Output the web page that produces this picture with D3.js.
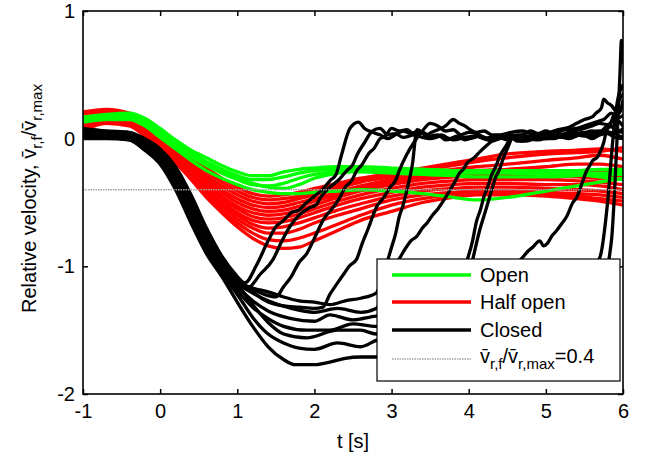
<!DOCTYPE html>
<html>
<head>
<meta charset="utf-8">
<script src="https://cdn.jsdelivr.net/npm/d3@7"></script>
<style>
  body { margin: 0; background: #fff; }
  svg { display: block; }
  text { font-family: "Liberation Sans", Arial, Helvetica, sans-serif; fill: #000; }
</style>
</head>
<body>
<svg id="chart" width="649" height="461"></svg>
<script>
// Axis ticks
const xTicks = [-1, 0, 1, 2, 3, 4, 5, 6];
const yTicks = [-2, -1, 0, 1];
const threshold = -0.4;

// Time grid shared by the open and half-open runs [s]
const tGrid = [-1, -0.7, -0.4, -0.2, 0, 0.2, 0.4, 0.6, 0.8, 1.0, 1.2, 1.4, 1.6, 1.8, 2.0, 2.3, 2.6, 3.0, 3.4, 3.8, 4.1, 4.5, 5.0, 5.4, 5.7, 6.0];

// Open door runs
const openRuns = [
  [.17, .19, .20, .16, .08, -.01, -.09, -.15, -.21, -.26, -.29, -.29, -.26, -.24, -.23, -.22, -.22, -.23, -.24, -.25, -.25, -.25, -.25, -.25, -.24, -.24],
  [.15, .17, .18, .14, .06, -.03, -.11, -.18, -.24, -.29, -.32, -.32, -.30, -.27, -.25, -.24, -.24, -.25, -.26, -.27, -.27, -.27, -.28, -.27, -.27, -.26],
  [.14, .16, .16, .12, .03, -.06, -.14, -.21, -.27, -.32, -.36, -.37, -.35, -.31, -.28, -.26, -.26, -.27, -.28, -.29, -.30, -.30, -.30, -.29, -.28, -.28],
  [.13, .15, .15, .10, .01, -.08, -.17, -.25, -.31, -.36, -.40, -.42, -.43, -.43, -.42, -.41, -.40, -.41, -.43, -.46, -.48, -.46, -.41, -.37, -.34, -.31],
  [.16, .18, .17, .13, .04, -.05, -.13, -.20, -.26, -.31, -.35, -.38, -.39, -.36, -.31, -.27, -.25, -.24, -.24, -.25, -.26, -.26, -.27, -.28, -.30, -.32]
];

// Half-open door runs
const halfOpenRuns = [
  [.21, .23, .20, .14, .05, -.05, -.14, -.23, -.31, -.38, -.43, -.45, -.44, -.42, -.39, -.35, -.31, -.27, -.23, -.19, -.16, -.12, -.10, -.09, -.08, -.10],
  [.19, .22, .19, .12, .03, -.07, -.17, -.26, -.34, -.41, -.46, -.48, -.47, -.45, -.42, -.37, -.33, -.29, -.25, -.21, -.18, -.15, -.12, -.11, -.10, -.07],
  [.17, .21, .18, .11, .01, -.09, -.19, -.29, -.37, -.44, -.49, -.51, -.50, -.47, -.44, -.39, -.34, -.30, -.27, -.24, -.22, -.20, -.17, -.15, -.13, -.16],
  [.20, .20, .16, .09, -.01, -.11, -.21, -.31, -.40, -.47, -.52, -.54, -.53, -.50, -.47, -.42, -.37, -.32, -.28, -.26, -.25, -.24, -.22, -.20, -.20, -.22],
  [.15, .19, .17, .10, .00, -.10, -.22, -.33, -.42, -.50, -.55, -.57, -.56, -.53, -.49, -.44, -.39, -.34, -.30, -.28, -.27, -.26, -.25, -.26, -.25, -.28],
  [.12, .17, .15, .08, -.02, -.13, -.24, -.35, -.45, -.53, -.58, -.60, -.59, -.56, -.52, -.46, -.41, -.36, -.32, -.30, -.29, -.29, -.29, -.30, -.31, -.30],
  [.18, .18, .14, .07, -.03, -.14, -.26, -.37, -.47, -.55, -.61, -.63, -.62, -.59, -.55, -.49, -.44, -.39, -.35, -.33, -.32, -.32, -.32, -.33, -.34, -.36],
  [.10, .15, .14, .06, -.04, -.15, -.27, -.39, -.49, -.58, -.64, -.66, -.65, -.62, -.58, -.52, -.47, -.42, -.38, -.36, -.35, -.35, -.36, -.36, -.37, -.40],
  [.14, .16, .13, .05, -.05, -.16, -.28, -.40, -.51, -.60, -.67, -.70, -.69, -.66, -.62, -.56, -.51, -.45, -.41, -.39, -.38, -.38, -.39, -.40, -.41, -.43],
  [.08, .13, .12, .04, -.06, -.17, -.30, -.42, -.53, -.63, -.70, -.74, -.74, -.71, -.66, -.60, -.55, -.48, -.44, -.42, -.41, -.41, -.42, -.43, -.44, -.46],
  [.11, .14, .11, .03, -.07, -.18, -.31, -.44, -.56, -.66, -.74, -.79, -.80, -.78, -.74, -.67, -.60, -.52, -.47, -.44, -.43, -.43, -.44, -.45, -.47, -.49],
  [.06, .12, .10, .02, -.08, -.19, -.32, -.46, -.58, -.69, -.78, -.84, -.86, -.85, -.80, -.72, -.64, -.57, -.50, -.46, -.44, -.44, -.45, -.47, -.49, -.52]
];

// Closed door runs, [t, v] pairs
const closedRuns = [
  [[-1,.06],[-.7,.05],[-.4,.04],[-.2,-.01],[0,-.09],[.2,-.24],[.4,-.46],[.6,-.72],[.8,-.94],[1.0,-1.09],[1.1,-1.13],[1.25,-.99],[1.4,-.8],[1.5,-.69],[1.6,-.64],[1.7,-.58],[1.8,-.56],[1.9,-.5],[2.0,-.45],[2.12,-.39],[2.2,-.33],[2.28,-.28],[2.35,-.13],[2.46,.08],[2.57,.13],[2.65,.08],[2.75,.05],[2.85,.03],[2.95,0],[3.05,.03],[3.15,.06],[3.25,.04],[3.35,.06],[3.45,.02],[3.55,.01],[3.65,.03],[3.75,0],[3.85,.02],[3.95,-.01],[4.1,.02],[4.2,0],[4.35,.02],[4.5,-.01],[4.6,.01],[4.75,-.02],[4.9,.01],[5.0,0],[5.15,.02],[5.3,0],[5.45,.03],[5.6,.02],[5.75,.06],[5.9,.04],[6.0,.08]],
  [[-1,.04],[-.7,.04],[-.4,.03],[-.2,-.02],[0,-.1],[.2,-.26],[.4,-.48],[.6,-.74],[.8,-.95],[1.0,-1.1],[1.13,-1.17],[1.3,-1.06],[1.46,-.95],[1.58,-.8],[1.68,-.69],[1.8,-.6],[1.94,-.54],[2.02,-.52],[2.08,-.46],[2.2,-.38],[2.32,-.32],[2.42,-.25],[2.5,-.2],[2.55,-.13],[2.65,-.03],[2.75,.06],[2.85,.08],[2.95,.03],[3.05,.04],[3.15,.01],[3.3,.03],[3.4,.01],[3.5,0],[3.65,.02],[3.8,-.01],[3.95,.01],[4.1,.02],[4.25,-.01],[4.4,0],[4.55,.02],[4.7,-.02],[4.85,.01],[5.0,0],[5.15,.03],[5.3,.02],[5.45,.04],[5.6,0],[5.7,.03],[5.8,.04],[5.9,.01],[6.0,.02]],
  [[-1,.02],[-.7,.03],[-.4,.02],[-.2,-.03],[0,-.11],[.2,-.27],[.4,-.5],[.6,-.76],[.8,-.97],[1.0,-1.11],[1.2,-1.18],[1.35,-1.22],[1.5,-1.24],[1.6,-1.16],[1.7,-1.08],[1.8,-.97],[1.9,-.9],[2.0,-.78],[2.12,-.63],[2.24,-.54],[2.32,-.47],[2.4,-.38],[2.48,-.33],[2.55,-.25],[2.62,-.2],[2.7,-.12],[2.78,-.07],[2.85,0],[2.92,.02],[3.0,.08],[3.1,.06],[3.2,.07],[3.3,.03],[3.4,.05],[3.5,.02],[3.6,.03],[3.7,-.01],[3.85,.01],[4.0,0],[4.15,.02],[4.3,-.02],[4.45,.01],[4.6,0],[4.8,.02],[5.0,.03],[5.15,.02],[5.3,.05],[5.45,.04],[5.6,.06],[5.7,.05],[5.8,.1],[5.9,.08],[6.0,.05]],
  [[-1,.08],[-.7,.06],[-.4,.05],[-.2,0],[0,-.08],[.2,-.22],[.4,-.44],[.6,-.7],[.8,-.92],[1.0,-1.08],[1.2,-1.2],[1.4,-1.28],[1.6,-1.31],[1.8,-1.32],[2.0,-1.33],[2.11,-1.32],[2.2,-1.22],[2.3,-1.13],[2.38,-1.06],[2.45,-1.0],[2.55,-.94],[2.62,-.82],[2.7,-.7],[2.76,-.6],[2.81,-.53],[2.9,-.46],[2.98,-.38],[3.05,-.33],[3.1,-.25],[3.2,-.12],[3.3,-.02],[3.4,.06],[3.5,.12],[3.6,.1],[3.7,.06],[3.8,.07],[3.9,.03],[4.0,.05],[4.1,.04],[4.2,.01],[4.3,0],[4.45,.03],[4.6,.02],[4.75,0],[4.9,-.01],[5.05,.02],[5.2,.03],[5.35,.06],[5.5,.08],[5.6,.1],[5.7,.12],[5.8,.11],[5.9,.15],[6.0,.1]],
  [[-1,.03],[-.7,.02],[-.4,.01],[-.2,-.04],[0,-.12],[.2,-.29],[.4,-.52],[.6,-.78],[.8,-.98],[1.0,-1.12],[1.2,-1.17],[1.4,-1.2],[1.6,-1.24],[1.8,-1.27],[2.0,-1.28],[2.2,-1.3],[2.4,-1.27],[2.6,-1.25],[2.8,-1.21],[2.9,-1.05],[3.0,-.85],[3.05,-.75],[3.1,-.61],[3.15,-.52],[3.2,-.4],[3.27,-.2],[3.33,.07],[3.4,.05],[3.45,.03],[3.52,.05],[3.6,.07],[3.7,.1],[3.8,.15],[3.88,.12],[3.95,.1],[4.02,.07],[4.1,.05],[4.2,.06],[4.3,.03],[4.4,.03],[4.55,.05],[4.7,.06],[4.85,.03],[5.0,.04],[5.15,.07],[5.3,.09],[5.4,.12],[5.5,.15],[5.6,.17],[5.65,.2],[5.72,.24],[5.75,.31],[5.8,.28],[5.85,.26],[5.9,.22],[5.95,.2],[6.0,.3]],
  [[-1,.05],[-.7,.03],[-.4,.02],[-.2,-.05],[0,-.14],[.2,-.31],[.4,-.55],[.6,-.8],[.8,-1.0],[1.0,-1.13],[1.2,-1.21],[1.4,-1.27],[1.7,-1.33],[2.0,-1.36],[2.3,-1.33],[2.6,-1.36],[2.8,-1.33],[2.95,-1.1],[3.11,-.93],[3.18,-.86],[3.25,-.8],[3.32,-.77],[3.4,-.7],[3.46,-.66],[3.53,-.6],[3.6,-.55],[3.68,-.48],[3.76,-.4],[3.82,-.34],[3.88,-.27],[3.93,-.24],[3.98,-.19],[4.07,-.15],[4.15,-.1],[4.24,-.05],[4.32,-.01],[4.4,.02],[4.5,.04],[4.6,.02],[4.7,.03],[4.8,.06],[4.9,.04],[5.0,.06],[5.1,.04],[5.25,.07],[5.4,.08],[5.5,.1],[5.6,.12],[5.7,.14],[5.75,.15],[5.85,.2],[5.92,.16],[6.0,.18]],
  [[-1,.01],[-.7,.01],[-.4,0],[-.2,-.06],[0,-.15],[.2,-.33],[.4,-.57],[.6,-.82],[.8,-1.02],[1.0,-1.16],[1.2,-1.27],[1.4,-1.35],[1.7,-1.41],[2.0,-1.43],[2.2,-1.38],[2.5,-1.42],[2.8,-1.39],[3.2,-1.38],[3.6,-1.3],[3.85,-1.15],[3.98,-.95],[4.05,-.8],[4.1,-.65],[4.15,-.56],[4.2,-.45],[4.25,-.37],[4.3,-.28],[4.35,-.22],[4.4,-.14],[4.48,-.06],[4.55,.01],[4.62,.03],[4.7,.03],[4.8,.01],[4.9,0],[5.0,.02],[5.1,.03],[5.2,.01],[5.3,.02],[5.4,.04],[5.5,.05],[5.6,.03],[5.7,.04],[5.78,.07],[5.85,.1],[5.92,.06],[6.0,.05]],
  [[-1,.04],[-.7,.02],[-.4,.01],[-.2,-.07],[0,-.16],[.2,-.35],[.4,-.6],[.6,-.85],[.8,-1.04],[1.0,-1.19],[1.2,-1.32],[1.4,-1.41],[1.6,-1.47],[1.9,-1.5],[2.2,-1.5],[2.5,-1.45],[2.8,-1.47],[3.2,-1.46],[3.6,-1.4],[3.9,-1.2],[4.05,-.95],[4.1,-.82],[4.15,-.7],[4.2,-.6],[4.25,-.5],[4.3,-.4],[4.35,-.3],[4.4,-.24],[4.45,-.15],[4.5,-.08],[4.57,0],[4.63,-.02],[4.7,-.02],[4.8,.01],[4.9,.02],[5.0,0],[5.1,0],[5.2,.02],[5.3,.04],[5.4,.03],[5.5,.02],[5.6,.05],[5.7,.06],[5.8,.05],[5.9,.04],[6.0,0]],
  [[-1,0],[-.7,0],[-.4,-.01],[-.2,-.08],[0,-.18],[.2,-.38],[.4,-.63],[.6,-.88],[.8,-1.06],[1.0,-1.22],[1.2,-1.4],[1.4,-1.53],[1.6,-1.6],[1.8,-1.64],[2.0,-1.65],[2.3,-1.6],[2.6,-1.63],[2.8,-1.58],[3.5,-1.5],[4.0,-1.35],[4.4,-1.1],[4.7,-.93],[4.77,-.88],[4.83,-.85],[4.92,-.8],[4.97,-.84],[5.02,-.82],[5.08,-.76],[5.14,-.72],[5.2,-.67],[5.27,-.61],[5.35,-.5],[5.4,-.46],[5.44,-.4],[5.48,-.33],[5.53,-.25],[5.57,-.21],[5.61,-.17],[5.66,-.15],[5.7,-.11],[5.75,-.03],[5.79,.07],[5.83,.1],[5.87,.17],[5.91,.22],[5.95,.3],[6.0,.35]],
  [[-1,.02],[-.7,.01],[-.4,-.01],[-.2,-.09],[0,-.2],[.2,-.4],[.4,-.66],[.6,-.9],[.8,-1.08],[1.0,-1.28],[1.2,-1.47],[1.4,-1.63],[1.6,-1.73],[1.75,-1.77],[2.0,-1.77],[2.2,-1.75],[2.4,-1.72],[2.6,-1.71],[2.8,-1.71],[3.5,-1.65],[4.5,-1.55],[5.3,-1.45],[5.7,-1.2],[5.85,-.8],[5.9,-.3],[5.93,.1],[5.96,.5],[5.98,.77],[6.0,.6]],
  [[-1,.07],[-.7,.04],[-.4,.02],[-.2,-.06],[0,-.17],[.2,-.36],[.4,-.6],[.6,-.83],[.8,-1.02],[1.0,-1.14],[1.2,-1.3],[1.4,-1.44],[1.6,-1.53],[1.9,-1.56],[2.3,-1.5],[2.6,-1.5],[2.8,-1.53],[3.5,-1.48],[4.5,-1.4],[5.3,-1.2],[5.7,-.93],[5.8,-.5],[5.87,0],[5.93,.3],[6.0,.42]]
];

const legendItems = [
  { label: "Open", color: "#00ff00" },
  { label: "Half open", color: "#ff0000" },
  { label: "Closed", color: "#000000" }
];

const svg = d3.select("#chart");
const plot = { left: 83, right: 623, top: 11, bottom: 394 };
const x = d3.scaleLinear().domain([-1, 6]).range([plot.left, plot.right]);
const y = d3.scaleLinear().domain([-2, 1]).range([plot.bottom, plot.top]);

svg.append("defs").append("clipPath").attr("id", "plotClip")
  .append("rect")
  .attr("x", plot.left).attr("y", plot.top)
  .attr("width", plot.right - plot.left).attr("height", plot.bottom - plot.top);

const smooth = d3.line()
  .x(d => x(d[0])).y(d => y(d[1]))
  .curve(d3.curveMonotoneX);

const traces = svg.append("g").attr("clip-path", "url(#plotClip)");

function drawRuns(runs, color) {
  traces.append("g").selectAll("path").data(runs).join("path")
    .attr("d", smooth)
    .attr("fill", "none")
    .attr("stroke", color)
    .attr("stroke-width", 3.3)
    .attr("stroke-linejoin", "round")
    .attr("stroke-linecap", "round");
}

drawRuns(halfOpenRuns.map(r => r.map((v, i) => [tGrid[i], v])), "#ff0000");
drawRuns(openRuns.map(r => r.map((v, i) => [tGrid[i], v])), "#00ff00");
drawRuns(closedRuns, "#000000");

// Threshold reference line
traces.append("line")
  .attr("x1", x(-1)).attr("x2", x(6))
  .attr("y1", y(threshold)).attr("y2", y(threshold))
  .attr("stroke", "#a0a0a0").attr("stroke-width", 1.6)
  .attr("stroke-dasharray", "1.5,1");

// Axes: ticks point inward on all four sides
const fontSize = 20;
const axB = svg.append("g").attr("transform", `translate(0,${plot.bottom})`)
  .call(d3.axisBottom(x).tickValues(xTicks).tickSizeInner(-5).tickSizeOuter(0).tickPadding(10).tickFormat(d => String(d)));
const axL = svg.append("g").attr("transform", `translate(${plot.left},0)`)
  .call(d3.axisLeft(y).tickValues(yTicks).tickSizeInner(-5).tickSizeOuter(0).tickPadding(8).tickFormat(d => String(d)));
const axT = svg.append("g").attr("transform", `translate(0,${plot.top})`)
  .call(d3.axisTop(x).tickValues(xTicks).tickSizeInner(-5).tickSizeOuter(0).tickFormat(""));
const axR = svg.append("g").attr("transform", `translate(${plot.right},0)`)
  .call(d3.axisRight(y).tickValues(yTicks).tickSizeInner(-5).tickSizeOuter(0).tickFormat(""));
[axB, axL, axT, axR].forEach(g => {
  g.select(".domain").remove();
  g.selectAll(".tick line").attr("stroke", "#000").attr("stroke-width", 1.5);
  g.selectAll("text").attr("font-size", fontSize).attr("font-family", "Liberation Sans, Arial, sans-serif").attr("fill", "#000");
});

svg.append("rect")
  .attr("x", plot.left).attr("y", plot.top)
  .attr("width", plot.right - plot.left).attr("height", plot.bottom - plot.top)
  .attr("fill", "none").attr("stroke", "#000").attr("stroke-width", 1.6);

// Axis titles
svg.append("text")
  .attr("x", (plot.left + plot.right) / 2).attr("y", 448)
  .attr("text-anchor", "middle").attr("font-size", fontSize)
  .text("t [s]");

const vbar = "v\u0304";
const yTitle = svg.append("text")
  .attr("transform", `translate(36,${(plot.top + plot.bottom) / 2 - 4}) rotate(-90)`)
  .attr("text-anchor", "middle").attr("font-size", fontSize);
yTitle.append("tspan").text("Relative velocity,  " + vbar);
yTitle.append("tspan").attr("font-size", 15).attr("dy", 6).text("r,f");
yTitle.append("tspan").attr("dy", -6).text("/" + vbar);
yTitle.append("tspan").attr("font-size", 15).attr("dy", 6).text("r,max");

// Legend
const lg = svg.append("g");
lg.append("rect")
  .attr("x", 377).attr("y", 259).attr("width", 243).attr("height", 122)
  .attr("fill", "#fff").attr("stroke", "#000").attr("stroke-width", 1.2);
const rowY = [275, 302, 330];
legendItems.forEach((d, i) => {
  lg.append("line")
    .attr("x1", 392).attr("x2", 471).attr("y1", rowY[i]).attr("y2", rowY[i])
    .attr("stroke", d.color).attr("stroke-width", 3.5);
  lg.append("text")
    .attr("x", 480).attr("y", rowY[i] + 7).attr("font-size", fontSize)
    .text(d.label);
});
lg.append("line")
  .attr("x1", 392).attr("x2", 471).attr("y1", 359).attr("y2", 359)
  .attr("stroke", "#a0a0a0").attr("stroke-width", 1.5).attr("stroke-dasharray", "1.5,1");
const thr = lg.append("text").attr("x", 480).attr("y", 359 + 4).attr("font-size", fontSize);
thr.append("tspan").text(vbar);
thr.append("tspan").attr("font-size", 15).attr("dy", 6).text("r,f");
thr.append("tspan").attr("dy", -6).text("/" + vbar);
thr.append("tspan").attr("font-size", 15).attr("dy", 6).text("r,max");
thr.append("tspan").attr("dy", -6).text("=" + Math.abs(threshold));
</script>
</body>
</html>
